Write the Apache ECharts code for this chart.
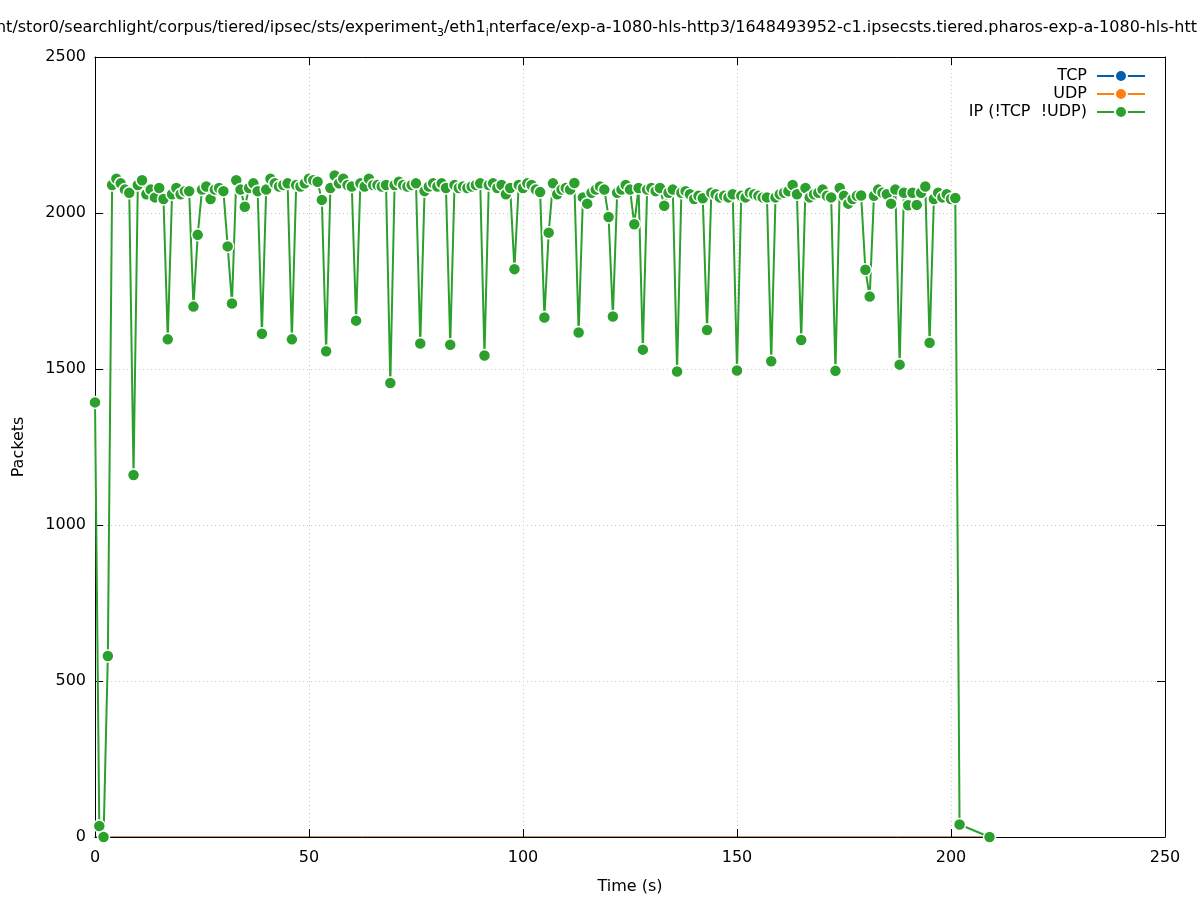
<!DOCTYPE html>
<html><head><meta charset="utf-8">
<script src="https://cdn.jsdelivr.net/npm/echarts@6/dist/echarts.min.js"></script>
<style>html,body{margin:0;padding:0;background:#fff}#c{width:1197px;height:900px}</style>
</head><body><div id="c"></div>
<script>
// time (s) of each IP sample
const times = [
 0,1,2,3,4,5,6,7,8,9,10,11,12,13,14,15,16,17,18,19,
 20,21,22,23,24,25,26,27,28,29,30,31,32,33,34,35,36,37,38,39,
 40,41,42,43,44,45,46,47,48,49,50,51,52,53,54,55,56,57,58,59,
 60,61,62,63,64,65,66,67,68,69,70,71,72,73,74,75,76,77,78,79,
 80,81,82,83,84,85,86,87,88,89,90,91,92,93,94,95,96,97,98,99,
 100,101,102,103,104,105,106,107,108,109,110,111,112,113,114,115,116,117,118,119,
 120,121,122,123,124,125,126,127,128,129,130,131,132,133,134,135,136,137,138,139,
 140,141,142,143,144,145,146,147,148,149,150,151,152,153,154,155,156,157,158,159,
 160,161,162,163,164,165,166,167,168,169,170,171,172,173,174,175,176,177,178,179,
 180,181,182,183,184,185,186,187,188,189,190,191,192,193,194,195,196,197,198,199,
 200,201,202,209
];
// IP (!TCP && !UDP) packets per sample
const ipPackets = [
 1393,35,0,580,2090,2110,2095,2075,2065,1160,
 2090,2105,2060,2075,2050,2080,2045,1595,2060,2080,
 2060,2070,2070,1700,1930,2075,2085,2045,2075,2080,
 2070,1893,1710,2105,2075,2020,2080,2095,2070,1613,
 2075,2110,2095,2085,2090,2095,1595,2090,2085,2095,
 2110,2105,2100,2042,1557,2080,2120,2095,2110,2090,
 2085,1655,2095,2085,2110,2090,2090,2085,2090,1455,
 2090,2100,2090,2085,2090,2095,1582,2070,2085,2095,
 2085,2095,2080,1578,2090,2080,2085,2080,2085,2090,
 2095,1543,2090,2095,2080,2090,2060,2080,1820,2090,
 2080,2095,2090,2075,2067,1665,1937,2095,2060,2075,
 2080,2075,2096,1617,2050,2030,2065,2075,2085,2075,
 1987,1668,2065,2075,2090,2075,1964,2080,1562,2075,
 2080,2070,2080,2023,2065,2075,1492,2065,2070,2060,
 2045,2055,2047,1625,2065,2060,2050,2055,2050,2060,
 1495,2055,2050,2065,2060,2055,2050,2050,1525,2050,
 2060,2065,2070,2090,2060,1593,2080,2050,2060,2065,
 2075,2055,2050,1494,2080,2055,2030,2045,2055,2056,
 1818,1732,2055,2075,2065,2060,2030,2075,1514,2065,
 2025,2065,2026,2065,2085,1584,2045,2065,2050,2060,
 2045,2048,40,0
];
const tcpTimes = [0, 209];
const tcpPackets = [0, 0];
const udpTimes = [0, 209];
const udpPackets = [0, 0];
const xTicks = [0, 50, 100, 150, 200, 250];
const yTicks = [0, 500, 1000, 1500, 2000, 2500];
const seriesNames = ['TCP', 'UDP', 'IP (!TCP  !UDP)'];
const titleText = '/mnt/stor0/searchlight/corpus/tiered/ipsec/sts/experiment{s|3}/eth1{s|i}nterface/exp-a-1080-hls-http3/1648493952-c1.ipsecsts.tiered.pharos-exp-a-1080-hls-http3';

const FONT = 'DejaVu Sans';
const FS = 16;
const pair = (xs, ys) => xs.map((t, i) => [t, ys[i]]);
const chart = echarts.init(document.getElementById('c'), null, {renderer: 'canvas'});
const gridLine = {show: true, lineStyle: {color: '#c8c8c8', type: [1, 3], width: 1}};
const blackLine = {show: true, onZero: false, lineStyle: {color: '#000', width: 1}};
const tick = {show: true, inside: true, length: 8, lineStyle: {color: '#000', width: 1}};
chart.setOption({
  animation: false,
  backgroundColor: '#fff',
  textStyle: {fontFamily: FONT},
  graphic: [{
    type: 'text', left: -25, top: 20, z: 10,
    style: {
      text: titleText, fontFamily: FONT, fontSize: FS, fill: '#000',
      rich: {s: {fontSize: 11, fontFamily: FONT, fill: '#000', padding: [10, 0, 0, 0]}}
    }
  }],
  grid: {left: 95, right: 32, top: 57, bottom: 62, containLabel: false},
  legend: {
    orient: 'vertical', right: 46, top: 63, align: 'right',
    itemWidth: 48, itemHeight: 15, itemGap: 2, selectedMode: false,
    lineStyle: {width: 2},
    itemStyle: {borderColor: '#fff', borderWidth: 2},
    textStyle: {fontSize: FS, color: '#000', fontFamily: FONT, padding: [0, 5, 0, 0]},
    data: seriesNames
  },
  xAxis: [{
    type: 'value', min: xTicks[0], max: xTicks[xTicks.length - 1], interval: 50,
    name: 'Time (s)', nameLocation: 'middle', nameGap: 42,
    nameTextStyle: {fontSize: FS, color: '#000', fontFamily: FONT},
    axisLine: blackLine, axisTick: tick, splitLine: gridLine,
    axisLabel: {fontSize: FS, color: '#000', margin: 13, fontFamily: FONT}
  }, {
    type: 'value', position: 'top', min: 0, max: 250, interval: 50,
    axisLine: blackLine, axisTick: tick, splitLine: {show: false}, axisLabel: {show: false}
  }],
  yAxis: [{
    type: 'value', min: yTicks[0], max: yTicks[yTicks.length - 1], interval: 500,
    name: 'Packets', nameLocation: 'middle', nameGap: 68,
    nameTextStyle: {fontSize: FS, color: '#000', fontFamily: FONT},
    axisLine: blackLine, axisTick: tick, splitLine: gridLine,
    axisLabel: {fontSize: FS, color: '#000', margin: 9, fontFamily: FONT, formatter: v => String(v)}
  }, {
    type: 'value', position: 'right', min: 0, max: 2500, interval: 500,
    axisLine: blackLine, axisTick: tick, splitLine: {show: false}, axisLabel: {show: false}
  }],
  series: [{
    name: seriesNames[0], type: 'line', data: pair(tcpTimes, tcpPackets),
    symbol: 'circle', symbolSize: 12, showSymbol: false,
    lineStyle: {color: '#0060ad', width: 1}, itemStyle: {color: '#0060ad', borderColor: '#fff', borderWidth: 1}, z: -1
  }, {
    name: seriesNames[1], type: 'line', data: pair(udpTimes, udpPackets),
    symbol: 'circle', symbolSize: 12, showSymbol: false,
    lineStyle: {color: '#ff7f0e', width: 1}, itemStyle: {color: '#ff7f0e', borderColor: '#fff', borderWidth: 1}, z: -1
  }, {
    name: seriesNames[2], type: 'line', data: pair(times, ipPackets),
    symbol: 'circle', symbolSize: 12, showAllSymbol: true,
    lineStyle: {color: '#2ca02c', width: 2},
    itemStyle: {color: '#2ca02c', borderColor: '#fff', borderWidth: 1.5}, z: 3
  }]
});
</script></body></html>
